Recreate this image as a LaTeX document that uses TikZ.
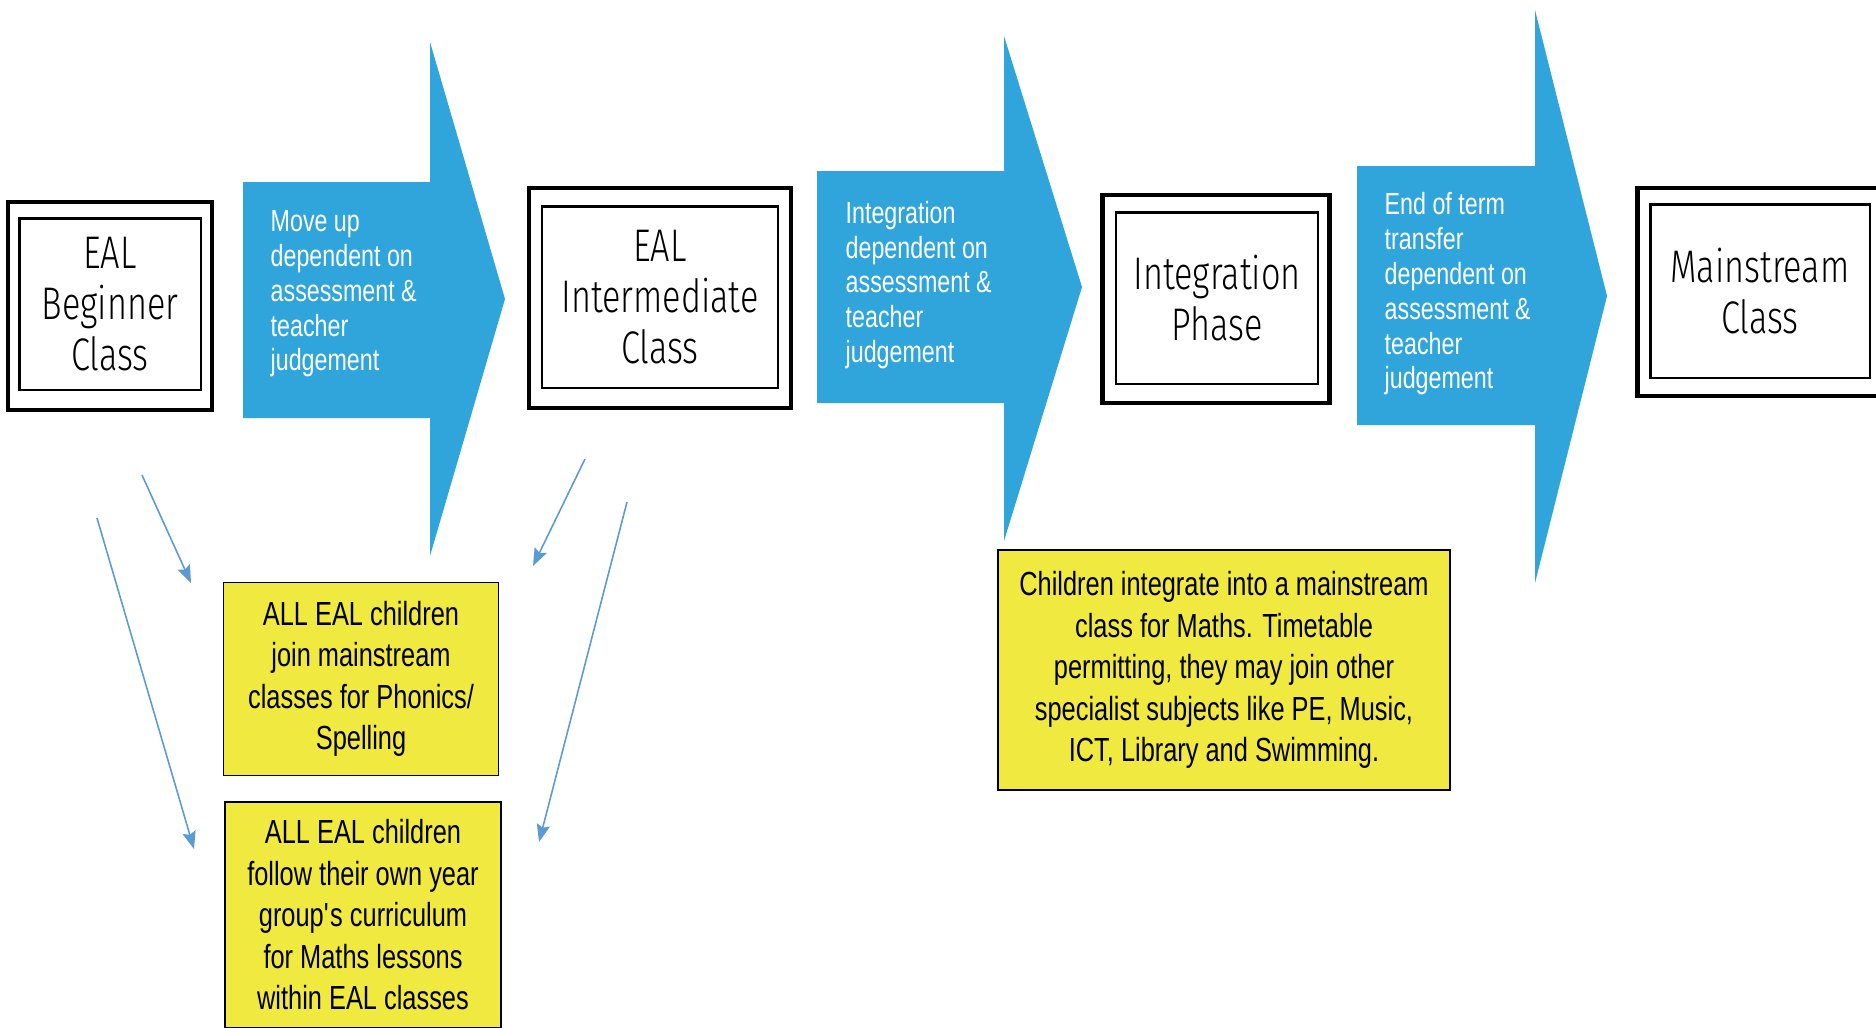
\documentclass[tikz,border=0pt]{standalone}
\usepackage{fontspec}
\setmainfont{Liberation Sans}[FakeStretch=0.76]
\newfontfamily\handfont{Fira Sans Light}[FakeStretch=0.75]
\usetikzlibrary{arrows.meta}
\definecolor{arrowblue}{RGB}{47,165,220}
\definecolor{noteyellow}{RGB}{240,233,64}
\definecolor{linkblue}{RGB}{91,155,213}

\begin{document}
\begin{tikzpicture}[x=0.01cm, y=-0.01cm,
  frame node/.style={rectangle,draw,line width=1.2pt,inner sep=0pt},
  class node/.style={rectangle,draw,line width=0.6pt,inner sep=0pt,align=center,font=\handfont\fontsize{13}{14.5}\selectfont},
  arrow text/.style={anchor=west,align=left,text=white,inner sep=0pt,font=\fontsize{8.7}{9.9}\selectfont},
  note node/.style={rectangle,draw,line width=0.45pt,fill=noteyellow,inner sep=0pt,align=center,font=\fontsize{9.5}{11.8}\selectfont},
  link/.style={-{Stealth[length=5pt,width=3.8pt,inset=0.8pt]},line width=0.45pt,linkblue}]
  \useasboundingbox (0,0) rectangle (1876,1027);

  % big arrows
  \fill[arrowblue] (243,182) -- (430,182) -- (430,42) -- (505,299) -- (430,556) -- (430,418) -- (243,418) -- cycle;
  \fill[arrowblue] (817,171) -- (1004,171) -- (1004,36) -- (1082,287) -- (1004,541) -- (1004,403) -- (817,403) -- cycle;
  \fill[arrowblue] (1357,166) -- (1535,166) -- (1535,10) -- (1607,296) -- (1535,583) -- (1535,425) -- (1357,425) -- cycle;
  \node[arrow text] (t0) at (270,294) {Move up\\dependent on\\assessment \&\\teacher\\judgement};
  \node[arrow text] (t1) at (845,285) {Integration\\dependent on\\assessment \&\\teacher\\judgement};
  \node[arrow text] (t2) at (1384,294) {End of term\\transfer\\dependent on\\assessment \&\\teacher\\judgement};

  % class boxes
  \node[frame node,minimum width=2.04cm,minimum height=2.08cm] (o0) at (110,306) {};
  \node[frame node,minimum width=2.62cm,minimum height=2.20cm] (o1) at (660,298) {};
  \node[frame node,minimum width=2.27cm,minimum height=2.08cm] (o2) at (1216,299) {};
  \node[frame node,minimum width=2.45cm,minimum height=2.08cm] (o3) at (1760,292) {};
  \node[class node,minimum width=1.81cm,minimum height=1.71cm] (c0) at (110,304) {EAL\\Beginner\\Class};
  \node[class node,minimum width=2.35cm,minimum height=1.81cm] (c1) at (660,297) {EAL\\Intermediate\\Class};
  \node[class node,minimum width=2.02cm,minimum height=1.71cm] (c2) at (1217,298) {Integration\\Phase};
  \node[class node,minimum width=2.19cm,minimum height=1.73cm] (c3) at (1760,291) {Mainstream\\Class};

  % notes
  \node[note node,minimum width=2.75cm,minimum height=1.93cm] (y0) at (361,679) {ALL EAL children\\join mainstream\\classes for Phonics/\\Spelling};
  \node[note node,minimum width=2.76cm,minimum height=2.26cm] (y1) at (363,915) {ALL EAL children\\follow their own year\\group\textquotesingle s curriculum\\for Maths lessons\\within EAL classes};
  \node[note node,minimum width=4.52cm,minimum height=2.40cm] (y2) at (1224,670) {Children integrate into a mainstream\\class for Maths. Timetable\\permitting, they may join other\\specialist subjects like PE, Music,\\ICT, Library and Swimming.};

  % thin arrows
  \coordinate (p0) at (142,475);
  \coordinate (p1) at (191,583);
  \coordinate (p2) at (97,518);
  \coordinate (p3) at (194,849);
  \coordinate (p4) at (585,459);
  \coordinate (p5) at (533,566);
  \coordinate (p6) at (627,502);
  \coordinate (p7) at (539,842);
 \path[] (p0) [link] edge node [] {} (p1);
 \path[] (p2) [link] edge node [] {} (p3);
 \path[] (p4) [link] edge node [] {} (p5);
 \path[] (p6) [link] edge node [] {} (p7);
\end{tikzpicture}
\end{document}
